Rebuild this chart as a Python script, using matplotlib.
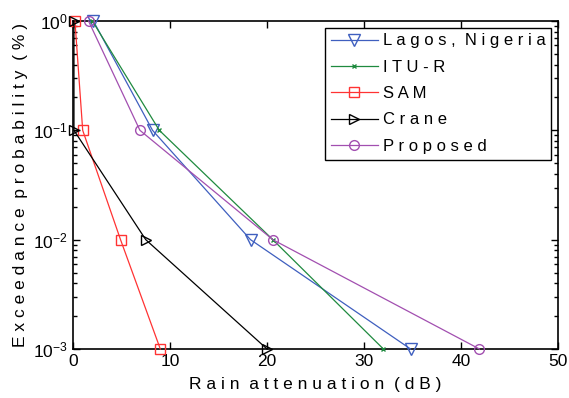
import math
import matplotlib
matplotlib.use("Agg")
import matplotlib.pyplot as plt
from matplotlib.ticker import FuncFormatter, LogLocator, MultipleLocator

plt.rcParams['font.family'] = ['Liberation Sans', 'DejaVu Sans']
plt.rcParams['mathtext.fontset'] = 'custom'
plt.rcParams['mathtext.rm'] = 'Liberation Sans'
plt.rcParams['mathtext.it'] = 'Liberation Sans'

prob = [1, 0.1, 0.01, 0.001]
lagos = [2.1, 8.2, 18.3, 34.8]
itur = [2.0, 8.9, 20.6, 32.0]
sam = [0.2, 1.0, 4.9, 9.0]
crane = [0.1, 0.1, 7.5, 20.0]
proposed = [1.6, 6.9, 20.6, 41.9]

labels = ["Lagos, Nigeria", "ITU-R", "SAM", "Crane", "Proposed"]
xlabel = "Rain attenuation (dB)"
ylabel = "Exceedance probability (%)"

def spaced(s):
    return " ".join(list(s)).replace("   ", "  ")

fig = plt.figure(figsize=(5.69, 3.98), dpi=100)
ax = fig.add_axes([73/569, 1-349/398, (558-73)/569, (349-21)/398])

series = [
    (lagos, '#3f5fbf', 'v', 8, labels[0]),
    (itur, '#1f8a3f', 'x', 3, labels[1]),
    (sam, '#ff3333', 's', 7, labels[2]),
    (crane, '#000000', '>', 7, labels[3]),
    (proposed, '#a24fb0', 'o', 7, labels[4]),
]
for vals, c, m, ms, lab in series:
    ax.plot(vals, prob, color=c, marker=m, markersize=ms, markerfacecolor='none',
            markeredgecolor=c, linewidth=0.9, label=spaced(lab), clip_on=False, zorder=3)

ax.set_yscale('log')
ax.set_xlim(0, 50)
ax.set_ylim(1e-3, 1)
ax.xaxis.set_major_locator(MultipleLocator(10))
ax.yaxis.set_major_locator(LogLocator(base=10, numticks=10))
ax.yaxis.set_minor_locator(LogLocator(base=10, subs=range(2, 10), numticks=10))
ax.yaxis.set_major_formatter(FuncFormatter(lambda v, p: r'$10^{%d}$' % round(math.log10(v))))
ax.tick_params(axis='both', which='both', direction='in', top=True, right=True, labelsize=12.5, width=1)
ax.tick_params(axis='both', which='major', length=5)
ax.tick_params(axis='y', which='minor', length=3)
for sp in ax.spines.values():
    sp.set_linewidth(1.2)

ax.set_xlabel(spaced(xlabel), fontsize=12.5, labelpad=6)
ax.set_ylabel(spaced(ylabel), fontsize=12.5, labelpad=4)

leg = ax.legend(loc='upper right', fontsize=12, frameon=True, fancybox=False,
                edgecolor='black', framealpha=1, borderpad=0.35, labelspacing=0.68,
                handlelength=2.8, handletextpad=0.3, borderaxespad=0.4)
leg.get_frame().set_linewidth(1.0)
leg.set_zorder(5)

fig.savefig("out.png", dpi=100)
